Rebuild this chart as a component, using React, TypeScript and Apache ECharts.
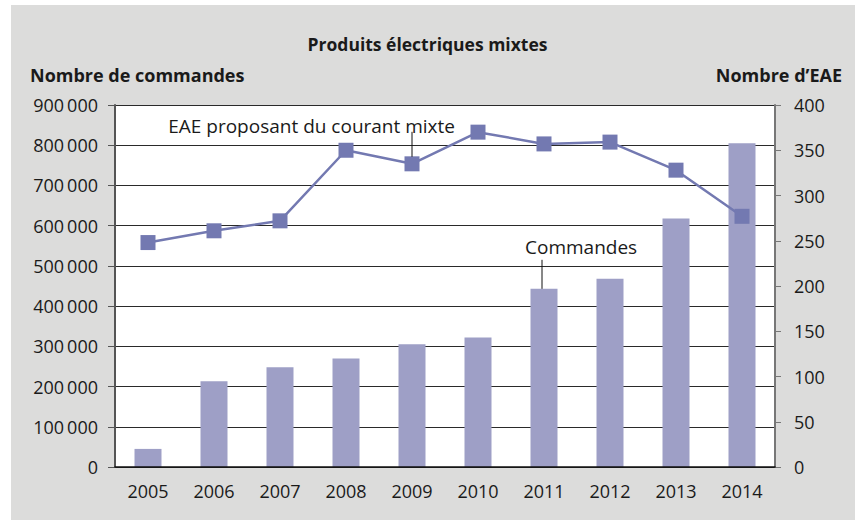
import React, { useEffect, useRef } from "react";
import * as echarts from "echarts";

const years = ["2005", "2006", "2007", "2008", "2009", "2010", "2011", "2012", "2013", "2014"];
const commandes = [45000, 213000, 248000, 270000, 305000, 322000, 443000, 468000, 618000, 805000];
const eae = [248, 261, 272, 350, 335, 370, 357, 359, 328, 277];

const title = "Produits électriques mixtes";
const leftName = "Nombre de commandes";
const rightName = "Nombre d\u2019EAE";
const lineLabel = "EAE proposant du courant mixte";
const barLabel = "Commandes";

const FONT = "'Open Sans', 'Noto Sans', sans-serif";

function fmt(v: number): string {
  const s = String(Math.round(v));
  return s.replace(/\B(?=(\d{3})+(?!\d))/g, "\u2009");
}

export default function App() {
  const ref = useRef<HTMLDivElement>(null);
  useEffect(() => {
    if (!ref.current) return;
    const chart = echarts.init(ref.current, null, { renderer: "svg" });
    const baseGraphic = [
      { type: "rect", z: -10, silent: true, shape: { x: 11, y: 5, width: 844, height: 515 }, style: { fill: "#dcdcdb" } },
      { type: "rect", z: -9, silent: true, shape: { x: 115, y: 105, width: 660, height: 362 }, style: { fill: "#ffffff" } },
      { type: "text", left: "center", top: 35, style: { text: title, font: `bold 17.5px ${FONT}`, fill: "#1a1a1a" } },
      { type: "text", x: 30, y: 66, style: { text: leftName, font: `bold 18px ${FONT}`, fill: "#1a1a1a" } },
      { type: "text", x: 842, y: 66, style: { text: rightName, font: `bold 18px ${FONT}`, fill: "#1a1a1a", align: "right" } },
    ];
    const option: any = {
      animation: false,
      backgroundColor: "#ffffff",
      textStyle: { fontFamily: FONT },
      grid: {
        left: 115,
        right: 80,
        top: 105,
        bottom: 53,
        show: false,
      },
      xAxis: {
        type: "category",
        data: years,
        boundaryGap: true,
        axisTick: { show: false },
        axisLine: { show: true, lineStyle: { color: "#111", width: 1.5 } },
        axisLabel: { color: "#1a1a1a", fontSize: 18, fontFamily: FONT, margin: 15 },
        z: 5,
      },
      yAxis: [
        {
          type: "value",
          min: 0,
          max: 900000,
          interval: 100000,
          axisLine: { show: true, lineStyle: { color: "#555", width: 2 } },
          axisTick: { show: true, length: 7, inside: false, lineStyle: { color: "#555", width: 1 } },
          axisLabel: { color: "#1a1a1a", fontSize: 18, fontFamily: FONT, margin: 17, formatter: (v: number) => fmt(v) },
          splitLine: { show: true, lineStyle: { color: "#2a2a2a", width: 1 } },
        },
        {
          type: "value",
          min: 0,
          max: 400,
          interval: 50,
          position: "right",
          axisLine: { show: true, lineStyle: { color: "#777", width: 2 } },
          axisTick: { show: true, length: 6, inside: false, lineStyle: { color: "#777", width: 1 } },
          axisLabel: { color: "#1a1a1a", fontSize: 18, fontFamily: FONT, margin: 19 },
          splitLine: { show: false },
        },
      ],
      series: [
        {
          type: "bar",
          name: barLabel,
          data: commandes,
          yAxisIndex: 0,
          barWidth: 27,
          itemStyle: { color: "#9e9fc6" },
          z: 2,
        },
        {
          type: "line",
          name: lineLabel,
          data: eae,
          yAxisIndex: 1,
          symbol: "rect",
          symbolSize: 15,
          lineStyle: { color: "#7379b1", width: 2.5 },
          itemStyle: { color: "#7379b1" },
          z: 4,
        },
      ],
      graphic: baseGraphic,
    };
    chart.setOption(option);

    const p2009 = chart.convertToPixel({ xAxisIndex: 0, yAxisIndex: 1 } as any, [years[4], eae[4]]) as number[];
    const p2011 = chart.convertToPixel({ xAxisIndex: 0, yAxisIndex: 0 } as any, [years[6], commandes[6]]) as number[];
    chart.setOption({
      graphic: [
        ...baseGraphic,
        { type: "line", z: 100, shape: { x1: p2009[0], y1: p2009[1] - 32, x2: p2009[0], y2: p2009[1] - 7 }, style: { stroke: "#111", lineWidth: 1 } },
        { type: "text", z: 100, x: p2009[0] + 43, y: p2009[1] - 38, style: { text: lineLabel, font: `19px ${FONT}`, fill: "#1a1a1a", align: "right", verticalAlign: "middle" } },
        { type: "line", z: 100, shape: { x1: p2011[0] - 2, y1: p2011[1] - 29, x2: p2011[0] - 2, y2: p2011[1] }, style: { stroke: "#111", lineWidth: 1 } },
        { type: "text", z: 100, x: p2011[0] - 19, y: p2011[1] - 42, style: { text: barLabel, font: `19px ${FONT}`, fill: "#1a1a1a", align: "left", verticalAlign: "middle" } },
      ],
    });
    return () => chart.dispose();
  }, []);
  return <div ref={ref} style={{ position: "fixed", left: 0, top: 0, width: 855, height: 520 }} />;
}
